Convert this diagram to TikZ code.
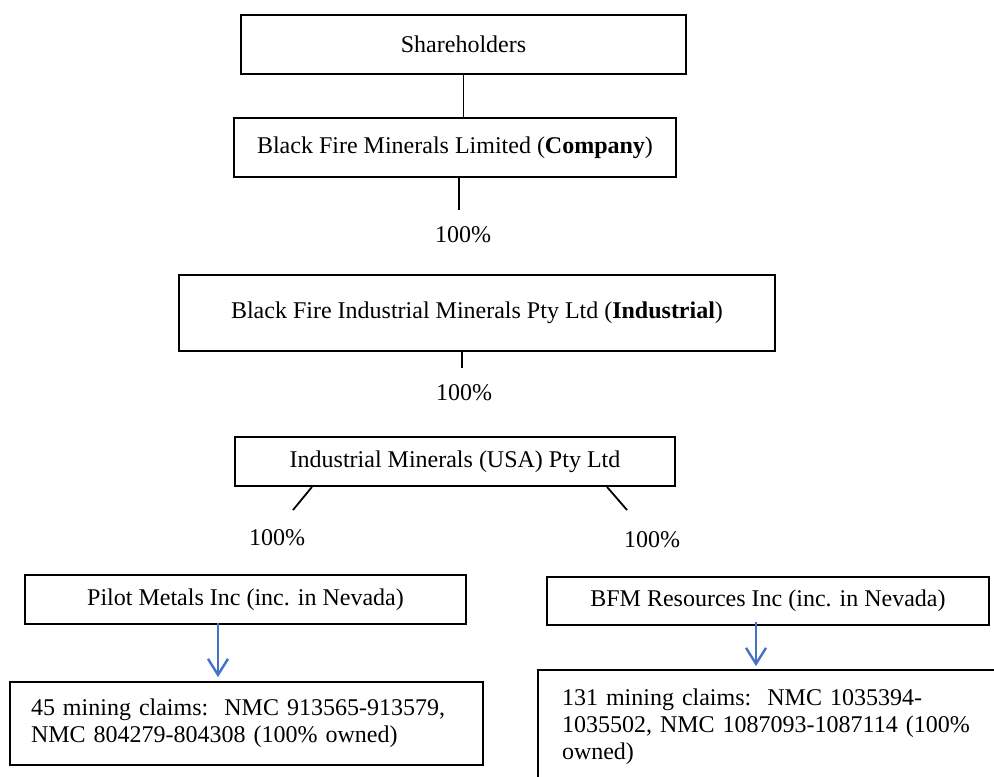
\documentclass[tikz,border=0pt]{standalone}
\usepackage{fontspec}
\setmainfont{Liberation Serif}
\usepackage{tikz}
\usetikzlibrary{positioning, arrows.meta}
\definecolor{officeblue}{RGB}{68, 114, 196}

\tikzset{
  orgbox/.style={draw, line width=0.9pt, inner sep=0pt, align=center},
  claimbox/.style={draw, line width=0.9pt, align=left, inner ysep=0pt},
  pct/.style={inner sep=1pt},
  ownline/.style={line width=0.9pt},
  ownarrow/.style={draw=officeblue, line width=1.2pt, -{Straight Barb[length=8pt, width=10pt]}}
}

\begin{document}
\begin{tikzpicture}[x=0.5pt, y=-0.5pt, every node/.style={font=\fontsize{12}{13.5}\selectfont}]
\useasboundingbox (0,0) rectangle (994,776);

\node[orgbox, minimum width=222.5pt, minimum height=29.5pt] (share) at (463.5,44.5) {Shareholders};
\node[orgbox, minimum width=221pt, minimum height=29.5pt] (comp) at (455,147.5) {Black Fire Minerals Limited (\textbf{Company})};
\node[pct] (pctA) at (463,235) {100\%};
\node[orgbox, minimum width=298pt, minimum height=38pt] (indus) at (477,313) {Black Fire Industrial Minerals Pty Ltd (\textbf{Industrial})};
\node[pct] (pctB) at (464,393) {100\%};
\node[orgbox, minimum width=220pt, minimum height=24.5pt] (usa) at (455,461.5) {Industrial Minerals (USA) Pty Ltd};
\node[pct] (pctC) at (277,538) {100\%};
\node[pct] (pctD) at (652,540) {100\%};

\node[orgbox, minimum width=220.5pt, minimum height=24.5pt] (pilot) at (245.5,599.5) {Pilot Metals Inc (inc. in Nevada)};
\node[orgbox, minimum width=221pt, minimum height=24pt] (bfm) at (768,601) {BFM Resources Inc (inc. in Nevada)};

\node[claimbox, inner xsep=10.5pt, text width=215.5pt, minimum height=41.5pt] (claimsA) at (246.5,723.5)
  {45 mining claims:\ \ NMC 913565-913579,\\NMC 804279-804308 (100\% owned)};
\node[claimbox, inner xsep=12pt, text width=207pt, minimum height=57pt] (claimsB) at (769,727)
  {131 mining claims:\ \ NMC 1035394-\\1035502, NMC 1087093-1087114 (100\%\\owned)};

%% ownership lines
\coordinate (endA) at (459,210);
\coordinate (endB) at (462,368);
\coordinate (endC) at (293,510);
\coordinate (endD) at (627,510);
\draw[ownline] (share.south) -- (share.south |- comp.north);
\draw[ownline] (comp.south -| endA) -- (endA);
\draw[ownline] (indus.south -| endB) -- (endB);
\draw[ownline] ([xshift=-71.5pt]usa.south) -- (endC);
\draw[ownline] ([xshift=76pt]usa.south) -- (endD);

\draw[ownarrow] ([xshift=-13.75pt, yshift=1pt]pilot.south) -- ([xshift=-13.75pt, yshift=2pt]pilot.south |- claimsA.north);
\draw[ownarrow] ([xshift=-6pt, yshift=2pt]bfm.south) -- ([xshift=-6pt, yshift=1.5pt]bfm.south |- claimsB.north);
\end{tikzpicture}
\end{document}
